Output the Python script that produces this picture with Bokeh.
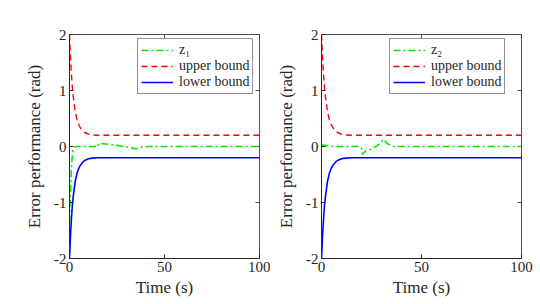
import math
from bokeh.plotting import figure
from bokeh.models import Range1d, Legend, LegendItem, FixedTicker, PrintfTickFormatter
from bokeh.layouts import row
from bokeh.embed import file_html
from bokeh.resources import INLINE

# bounds
t_bound = [0, 0.5, 1, 1.5, 2, 3, 4, 5, 6, 7, 8, 10, 12, 15, 100]
upper = [2.0, 1.6, 1.3, 1.05, 0.88, 0.62, 0.47, 0.38, 0.32, 0.28, 0.25, 0.22, 0.207, 0.2, 0.2]
lower = [-2.0, -1.6, -1.3, -1.05, -0.88, -0.62, -0.47, -0.38, -0.32, -0.28, -0.25, -0.22, -0.207, -0.2, -0.2]

# error z1
t_z1 = [0, 0.5, 1, 1.5, 2, 3, 15, 15.5, 20, 25, 30, 35, 38, 42, 100]
z1 = [-1.35, -0.8, -0.4, -0.15, -0.05, 0.0, 0.0, 0.06, 0.04, 0.02, -0.01, -0.04, -0.01, 0.0, 0.0]

# error z2
t_z2 = [0, 5, 18, 20, 20.5, 22, 25, 28, 30, 31, 33, 36, 100]
z2 = [0.03, 0.0, 0.0, -0.03, -0.14, -0.08, -0.04, 0.02, 0.08, 0.13, 0.05, 0.0, 0.0]

x_ticks = [0, 50, 100]
y_ticks = [-2, -1, 0, 1, 2]

FONT = "Liberation Serif"
AX = "#262626"


def make(tz, z, zlabel, width, bl, br):
    p = figure(width=width, height=304, x_range=Range1d(0, 100), y_range=Range1d(-2, 2),
               output_backend="svg", toolbar_location=None,
               min_border_left=bl, min_border_right=br, min_border_top=34, min_border_bottom=46)
    p.grid.visible = False
    p.outline_line_color = AX
    p.outline_line_width = 0.8
    p.background_fill_color = "white"
    p.border_fill_color = "white"

    for ax in (p.xaxis[0], p.yaxis[0]):
        ax.axis_line_color = AX
        ax.major_tick_line_color = AX
        ax.major_tick_in = 4
        ax.major_tick_out = 0
        ax.minor_tick_line_color = None
        ax.major_label_text_font = FONT
        ax.major_label_text_font_size = "15px"
        ax.major_label_text_color = AX
        ax.axis_label_text_font = FONT
        ax.axis_label_text_font_size = "17px"
        ax.axis_label_text_font_style = "normal"
        ax.axis_label_text_color = AX
        ax.major_label_standoff = 3
    p.xaxis.ticker = FixedTicker(ticks=x_ticks)
    p.yaxis.ticker = FixedTicker(ticks=y_ticks)
    p.yaxis.formatter = PrintfTickFormatter(format="%d")
    p.xaxis.axis_label = "Time (s)"
    p.yaxis.axis_label = "Error performance (rad)"
    p.xaxis.axis_label_standoff = 3
    p.yaxis.axis_label_standoff = 7

    # inward ticks on top and right edges (box on)
    p.scatter(x_ticks, [2] * len(x_ticks), marker="dash", angle=math.pi / 2, size=8,
              line_color=AX, line_width=0.8)
    p.scatter([100] * len(y_ticks), y_ticks, marker="dash", size=8,
              line_color=AX, line_width=0.8)

    rz = p.line(tz, z, line_color="#00ee00", line_width=1.6, line_dash="7 3 2 3")
    ru = p.line(t_bound, upper, line_color="#ff0000", line_width=1.4, line_dash="6 4")
    rl = p.line(t_bound, lower, line_color="#0000ff", line_width=1.6)

    leg = Legend(items=[LegendItem(label=zlabel, renderers=[rz]),
                        LegendItem(label="upper bound", renderers=[ru]),
                        LegendItem(label="lower bound", renderers=[rl])],
                 location=(68, 164))
    leg.label_text_font = FONT
    leg.label_text_font_size = "14px"
    leg.label_text_color = AX
    leg.border_line_color = AX
    leg.border_line_width = 0.8
    leg.glyph_width = 32
    leg.glyph_height = 14
    leg.label_height = 14
    leg.label_standoff = 6
    leg.spacing = 0
    leg.padding = 3
    leg.margin = 0
    leg.background_fill_alpha = 1
    p.add_layout(leg, "center")
    return p


p1 = make(t_z1, z1, "z₁", 270, 69, 11)
p2 = make(t_z2, z2, "z₂", 270, 51, 19)
p = row(p1, p2)

open("out.html", "w").write(file_html(p, INLINE))
